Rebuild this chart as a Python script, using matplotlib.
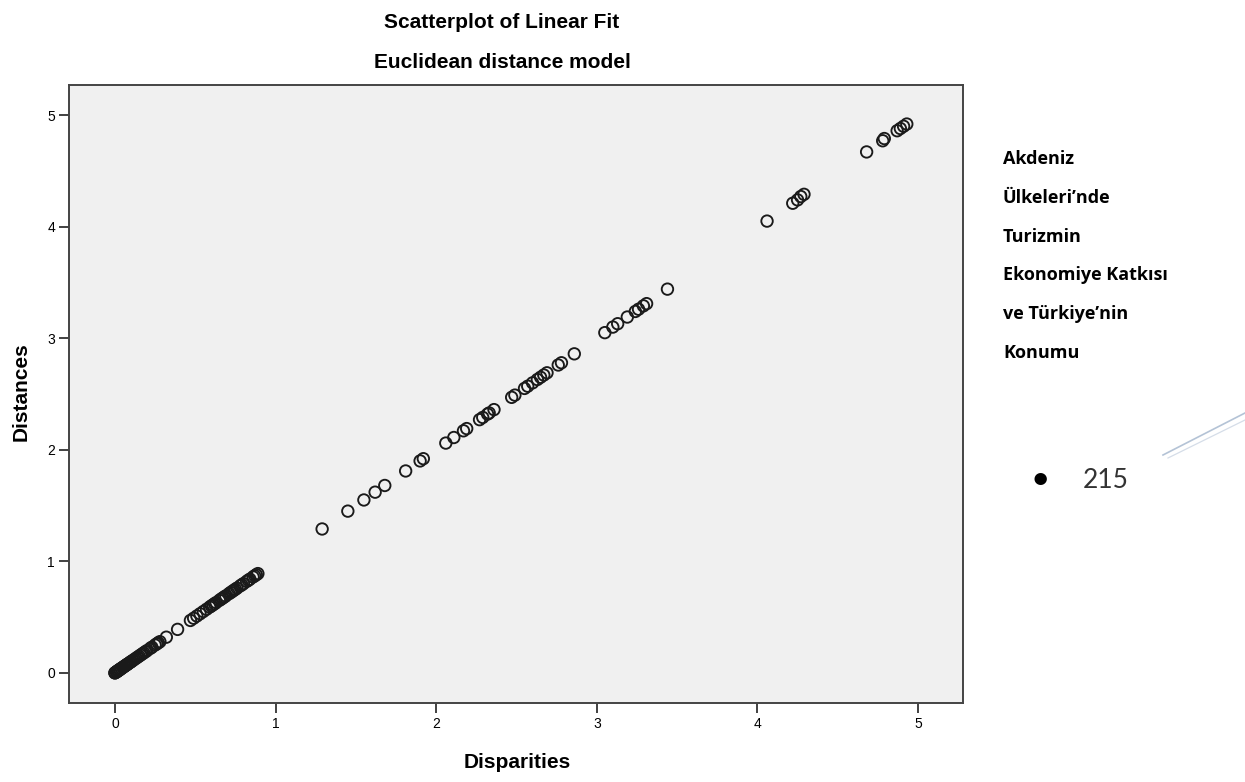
import matplotlib
matplotlib.use('Agg')
from matplotlib import pyplot as plt
from matplotlib.lines import Line2D

# values (distances ~ disparities)
disparities = [0.00, 0.00, 0.01, 0.01, 0.01, 0.02, 0.02, 0.02, 0.03, 0.03, 0.03, 0.04,
               0.04, 0.05, 0.05, 0.06, 0.06, 0.07, 0.07, 0.08, 0.08, 0.09, 0.10, 0.10,
               0.11, 0.12, 0.13, 0.14, 0.15, 0.16, 0.17, 0.18, 0.19, 0.20, 0.22, 0.23,
               0.25, 0.26, 0.27, 0.28, 0.32, 0.39,
               0.47, 0.49, 0.51, 0.53, 0.55, 0.57, 0.59, 0.60, 0.61, 0.62, 0.63, 0.65,
               0.66, 0.67, 0.68, 0.69, 0.71, 0.72, 0.73, 0.74, 0.75, 0.76, 0.78, 0.79,
               0.80, 0.82, 0.83, 0.84, 0.86, 0.87, 0.88, 0.89,
               1.29, 1.45, 1.55, 1.62, 1.68, 1.81, 1.90, 1.92, 2.06, 2.11, 2.17, 2.19,
               2.27, 2.29, 2.32, 2.33, 2.36, 2.47, 2.49, 2.55, 2.57, 2.60, 2.63, 2.65,
               2.67, 2.69, 2.76, 2.78, 2.86, 3.05, 3.10, 3.13, 3.19, 3.24, 3.26, 3.29,
               3.31, 3.44, 4.06, 4.22, 4.25, 4.27, 4.29, 4.68, 4.78, 4.79, 4.87, 4.89,
               4.91, 4.93]
distances = [0.00, 0.00, 0.01, 0.01, 0.01, 0.02, 0.02, 0.02, 0.03, 0.03, 0.03, 0.04,
             0.04, 0.05, 0.05, 0.06, 0.06, 0.07, 0.07, 0.08, 0.08, 0.09, 0.10, 0.10,
             0.11, 0.12, 0.13, 0.14, 0.15, 0.16, 0.17, 0.18, 0.19, 0.20, 0.22, 0.23,
             0.25, 0.26, 0.27, 0.28, 0.32, 0.39,
             0.47, 0.49, 0.51, 0.53, 0.55, 0.57, 0.59, 0.60, 0.61, 0.62, 0.63, 0.65,
             0.66, 0.67, 0.68, 0.69, 0.71, 0.72, 0.73, 0.74, 0.75, 0.76, 0.78, 0.79,
             0.80, 0.82, 0.83, 0.84, 0.86, 0.87, 0.88, 0.89,
             1.29, 1.45, 1.55, 1.62, 1.68, 1.81, 1.90, 1.92, 2.06, 2.11, 2.17, 2.19,
             2.27, 2.29, 2.32, 2.33, 2.36, 2.47, 2.49, 2.55, 2.57, 2.60, 2.63, 2.65,
             2.67, 2.69, 2.76, 2.78, 2.86, 3.05, 3.10, 3.13, 3.19, 3.24, 3.26, 3.29,
             3.31, 3.44, 4.05, 4.21, 4.24, 4.27, 4.29, 4.67, 4.77, 4.79, 4.86, 4.88,
             4.90, 4.92]
ticks = [0, 1, 2, 3, 4, 5]

side_lines = ['Akdeniz', 'Ülkeleri’nde', 'Turizmin', 'Ekonomiye Katkısı',
              've Türkiye’nin', 'Konumu']
page_no = '215'

narrow = ['Liberation Sans Narrow', 'Liberation Sans', 'DejaVu Sans']

fig = plt.figure(figsize=(12.45, 7.82), dpi=100)
fig.patch.set_facecolor('white')

W, H = 1245, 782
ax = fig.add_axes([69 / W, 1 - 703 / H, (963 - 69) / W, (703 - 85) / H])
ax.set_facecolor('#f0f0f0')

ax.scatter(disparities, distances, s=68, facecolors='none', edgecolors='#1a1a1a',
           linewidths=1.35, zorder=3)

ax.set_xlim(-0.286, 5.28)
ax.set_ylim(-0.27, 5.27)
ax.set_xticks(ticks)
ax.set_yticks(ticks)
ax.tick_params(direction='out', length=7, width=1.3, color='#333333',
               labelsize=10, pad=3)
for lab in ax.get_xticklabels() + ax.get_yticklabels():
    lab.set_family(narrow)

for sp in ax.spines.values():
    sp.set_color('#444444')
    sp.set_linewidth(1.4)

# titles and axis labels
fig.text(502 / W, 1 - 22 / H, 'Scatterplot of Linear Fit', ha='center', va='center',
         fontsize=15, fontweight='bold', family=narrow)
fig.text(502 / W, 1 - 62 / H, 'Euclidean distance model', ha='center', va='center',
         fontsize=15, fontweight='bold', family=narrow)
fig.text(517 / W, 1 - 762 / H, 'Disparities', ha='center', va='center',
         fontsize=15, fontweight='bold', family=narrow)
fig.text(21 / W, 1 - 392 / H, 'Distances', ha='center', va='center', rotation=90,
         fontsize=15, fontweight='bold', family=narrow)

# side text from the page
for i, line in enumerate(side_lines):
    fig.text(1003 / W, 1 - (159 + 38.8 * i) / H, line, ha='left', va='center',
             fontsize=13, fontweight='bold', family=['Open Sans', 'DejaVu Sans'])
fig.text(1040 / W, 1 - 480 / H, '•', ha='center', va='center', fontsize=24,
         family=['Lato', 'DejaVu Sans'])
fig.text(1083 / W, 1 - 480 / H, page_no, ha='left', va='center', fontsize=19,
         family=['Lato', 'DejaVu Sans'], color='#333333')

# decorative double line at the right edge
fig.add_artist(Line2D([1163 / W, 1245 / W], [1 - 455 / H, 1 - 413 / H],
                      transform=fig.transFigure, color='#b4c3d6', lw=1.2))
fig.add_artist(Line2D([1168 / W, 1245 / W], [1 - 458 / H, 1 - 420 / H],
                      transform=fig.transFigure, color='#d5dde8', lw=0.9))

fig.savefig('out.png', dpi=100)
